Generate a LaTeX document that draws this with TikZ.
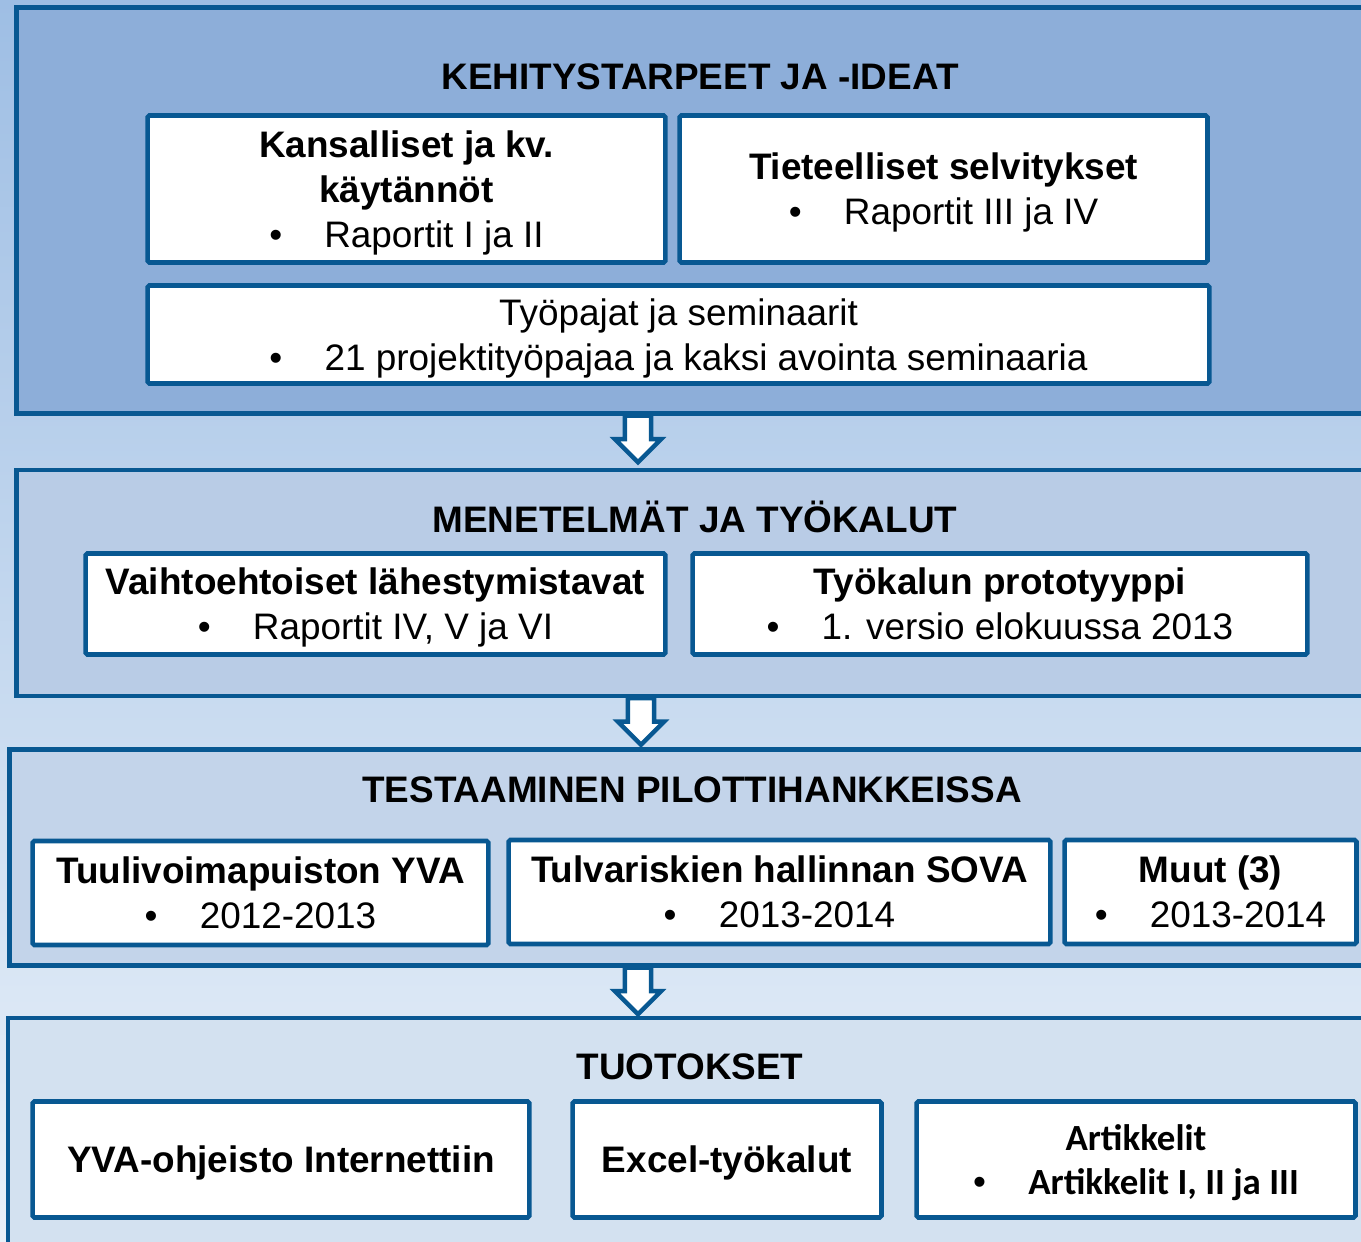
\documentclass[tikz,border=0pt]{standalone}
\usepackage{fontspec}
\setmainfont{Liberation Sans}
\newfontfamily\calibrifont{Carlito}
\usepackage{tikz}
\usetikzlibrary{shapes.arrows}
\definecolor{edge}{RGB}{8,88,146}
\definecolor{bgtop}{RGB}{158,190,228}
\definecolor{bgbot}{RGB}{233,241,249}
\definecolor{phaseA}{RGB}{141,174,217}
\definecolor{phaseB}{RGB}{185,204,230}
\definecolor{phaseC}{RGB}{195,212,234}
\definecolor{phaseD}{RGB}{211,225,240}
\newcommand{\bul}{{\rmfamily\mdseries\textbullet}\hspace{24pt}}

\begin{document}
\begin{tikzpicture}[x=0.02cm, y=-0.02cm, font=\fontsize{21}{25.5}\selectfont,
  panel/.style={draw=edge, line width=2.6pt},
  box/.style={draw=edge, fill=white, line width=2.6pt, rounded corners=1pt, align=center, inner sep=0pt, text depth=0pt},
  head/.style={font=\fontsize{21}{25.5}\selectfont\bfseries},
  flow/.style={single arrow, draw=edge, fill=white, line width=2.5pt, rotate=-90, anchor=tail,
    minimum height=26.5pt, inner xsep=0pt, inner ysep=6.2pt, single arrow head extend=5.7pt}]
\useasboundingbox (0,0) rectangle (1361,1241);
\clip (0,0) rectangle (1361,1241);
\shade[top color=bgtop, bottom color=bgbot] (0,0) rectangle (1361,1241);
% phases
\draw[panel, fill=phaseA] (16.5,7.5) rectangle (1390,413.5);
\draw[panel, fill=phaseB] (16.5,470) rectangle (1390,696);
\draw[panel, fill=phaseC] (9.5,749.5) rectangle (1390,965.5);
\draw[panel, fill=phaseD] (8,1018) rectangle (1390,1270);
% kehitystarpeet
\node[head] (t1) at (700,77) {KEHITYSTARPEET JA -IDEAT};
\node[box, minimum width=10.36cm, minimum height=2.94cm] (kans) at (406.5,189) {\textbf{Kansalliset ja kv.}\\\textbf{käytännöt}\\\bul Raportit I ja II};
\node[box, minimum width=10.56cm, minimum height=2.94cm] (tiet) at (943.5,189) {\textbf{Tieteelliset selvitykset}\\\bul Raportit III ja IV};
\node[box, minimum width=21.24cm, minimum height=1.96cm] (paja) at (678.5,334.5) {Työpajat ja seminaarit\\\bul 21 projektityöpajaa ja kaksi avointa seminaaria};
% menetelmat
\node[head] (t2) at (695,517) {MENETELMÄT JA TYÖKALUT};
\node[box, minimum width=11.6cm, minimum height=2.02cm] (vaiht) at (375.5,604) {\textbf{Vaihtoehtoiset lähestymistavat}\\\bul Raportit IV, V ja VI};
\node[box, minimum width=12.3cm, minimum height=2.02cm] (proto) at (1000,604) {\textbf{Työkalun prototyyppi}\\\bul 1. versio elokuussa 2013};
% testaaminen
\node[head] (t3) at (692,790) {TESTAAMINEN PILOTTIHANKKEISSA};
\node[box, minimum width=9.12cm, minimum height=2.08cm] (tuuli) at (260.5,893) {\textbf{Tuulivoimapuiston YVA}\\\bul 2012-2013};
\node[box, minimum width=10.84cm, minimum height=2.08cm] (tulva) at (779.5,892) {\textbf{Tulvariskien hallinnan SOVA}\\\bul 2013-2014};
\node[box, minimum width=5.84cm, minimum height=2.08cm] (muut) at (1210.5,892) {\textbf{Muut (3)}\\\bul 2013-2014};
% tuotokset
\node[head] (t4) at (690,1067) {TUOTOKSET};
\node[box, minimum width=9.94cm, minimum height=2.32cm, font={\fontsize{21}{25.5}\selectfont\bfseries}] (ohje) at (281,1159.5) {YVA-ohjeisto Internettiin};
\node[box, minimum width=6.18cm, minimum height=2.32cm, font={\fontsize{21}{25.5}\selectfont\bfseries}] (excel) at (727,1159.5) {Excel-työkalut};
\node[box, minimum width=8.78cm, minimum height=2.32cm, font={\calibrifont\bfseries\fontsize{21}{25.5}\selectfont}] (artik) at (1136,1159.5) {Artikkelit\\\bul Artikkelit I, II ja III};
% nuolet
\node[flow] (n1) at (638,413.5) {};
\node[flow] (n2) at (641,696) {};
\node[flow] (n3) at (638,965.5) {};
\end{tikzpicture}
\end{document}
